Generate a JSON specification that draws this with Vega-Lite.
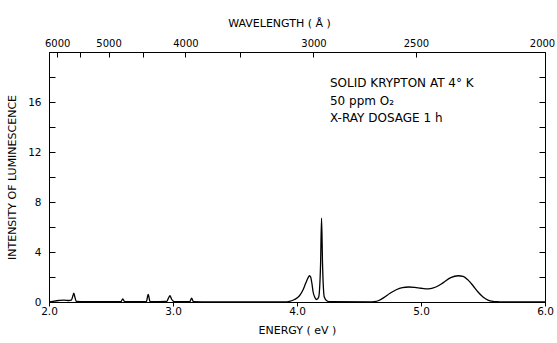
{
  "$schema": "https://vega.github.io/schema/vega-lite/v6.json",
  "width": 496,
  "height": 250,
  "autosize": {"type": "none"},
  "padding": {"left": 49, "top": 52, "right": 12, "bottom": 41},
  "background": "white",
  "config": {
    "view": {"stroke": "black", "strokeWidth": 1},
    "axis": {
      "grid": false,
      "domainColor": "black",
      "tickColor": "black",
      "labelColor": "black",
      "titleColor": "black",
      "labelFont": "DejaVu Sans",
      "titleFont": "DejaVu Sans",
      "labelFontSize": 10.5,
      "titleFontSize": 11,
      "titleFontWeight": "normal",
      "labelOverlap": false,
      "labelFlush": false,
      "labelBound": false
    }
  },
  "layer": [
    {
      "data": {
        "values": [
          {"E": 2.0, "I": 0.0}, {"E": 2.03, "I": 0.05}, {"E": 2.08, "I": 0.12}, {"E": 2.12, "I": 0.15},
          {"E": 2.16, "I": 0.12}, {"E": 2.18, "I": 0.15}, {"E": 2.19, "I": 0.4}, {"E": 2.2, "I": 0.7},
          {"E": 2.21, "I": 0.35}, {"E": 2.22, "I": 0.05}, {"E": 2.3, "I": 0.02}, {"E": 2.58, "I": 0.02},
          {"E": 2.595, "I": 0.25}, {"E": 2.61, "I": 0.02}, {"E": 2.785, "I": 0.03}, {"E": 2.8, "I": 0.6},
          {"E": 2.815, "I": 0.03}, {"E": 2.95, "I": 0.05}, {"E": 2.965, "I": 0.35}, {"E": 2.975, "I": 0.5},
          {"E": 2.99, "I": 0.2}, {"E": 3.01, "I": 0.03}, {"E": 3.135, "I": 0.03}, {"E": 3.15, "I": 0.3},
          {"E": 3.165, "I": 0.03}, {"E": 3.3, "I": 0.0}, {"E": 3.9, "I": 0.0}, {"E": 3.94, "I": 0.05},
          {"E": 3.98, "I": 0.2}, {"E": 4.02, "I": 0.5}, {"E": 4.05, "I": 1.0}, {"E": 4.07, "I": 1.5},
          {"E": 4.09, "I": 1.95}, {"E": 4.1, "I": 2.1}, {"E": 4.11, "I": 2.0}, {"E": 4.12, "I": 1.5},
          {"E": 4.13, "I": 0.8}, {"E": 4.145, "I": 0.35}, {"E": 4.16, "I": 0.2}, {"E": 4.175, "I": 0.4},
          {"E": 4.19, "I": 3.0}, {"E": 4.198, "I": 6.7}, {"E": 4.206, "I": 3.0}, {"E": 4.22, "I": 0.4},
          {"E": 4.24, "I": 0.1}, {"E": 4.27, "I": 0.02}, {"E": 4.6, "I": 0.0}, {"E": 4.62, "I": 0.02},
          {"E": 4.66, "I": 0.12}, {"E": 4.7, "I": 0.35}, {"E": 4.75, "I": 0.7}, {"E": 4.8, "I": 0.98},
          {"E": 4.85, "I": 1.15}, {"E": 4.9, "I": 1.2}, {"E": 4.95, "I": 1.17}, {"E": 5.0, "I": 1.1},
          {"E": 5.06, "I": 1.05}, {"E": 5.12, "I": 1.2}, {"E": 5.18, "I": 1.55}, {"E": 5.24, "I": 1.95},
          {"E": 5.3, "I": 2.1}, {"E": 5.34, "I": 2.05}, {"E": 5.38, "I": 1.75}, {"E": 5.42, "I": 1.3},
          {"E": 5.46, "I": 0.8}, {"E": 5.5, "I": 0.4}, {"E": 5.54, "I": 0.15}, {"E": 5.58, "I": 0.05},
          {"E": 5.62, "I": 0.02}, {"E": 5.66, "I": 0.0}, {"E": 6.0, "I": 0.0}
        ]
      },
      "mark": {"type": "line", "color": "black", "strokeWidth": 1.3, "interpolate": "monotone", "clip": true},
      "encoding": {
        "x": {
          "field": "E", "type": "quantitative",
          "scale": {"domain": [2, 6], "nice": false, "zero": false},
          "axis": {
            "orient": "bottom",
            "values": [2, 3, 4, 5, 6],
            "format": ".1f",
            "tickSize": 4,
            "labelPadding": 0,
            "title": "ENERGY    ( eV )",
            "titlePadding": 8
          }
        },
        "y": {
          "field": "I", "type": "quantitative",
          "scale": {"domain": [0, 20], "nice": false},
          "axis": {
            "orient": "left",
            "values": [0, 2, 4, 6, 8, 10, 12, 14, 16, 18],
            "labelExpr": "datum.value % 4 == 0 ? datum.label : ''",
            "tickSize": -6,
            "labelPadding": 14,
            "title": "INTENSITY OF LUMINESCENCE",
            "titlePadding": 10
          }
        }
      }
    },
    {
      "data": {"values": [{"note": "SOLID  KRYPTON  AT  4° K\n50 ppm  O₂\nX-RAY  DOSAGE   1 h"}]},
      "mark": {
        "type": "text",
        "align": "left",
        "baseline": "alphabetic",
        "font": "DejaVu Sans",
        "fontSize": 12,
        "lineBreak": "\n",
        "lineHeight": 17.5,
        "color": "black"
      },
      "encoding": {
        "x": {
          "datum": 4.266, "type": "quantitative",
          "scale": {"domain": [2, 6], "nice": false, "zero": false},
          "axis": {
            "orient": "top",
            "values": [2.066, 2.254, 2.48, 2.755, 3.1, 3.542, 4.133, 4.959, 6.0],
            "labelExpr": "datum.value < 2.1 ? '6000' : datum.value < 2.3 ? '' : datum.value < 2.6 ? '5000' : datum.value < 3.0 ? '' : datum.value < 3.3 ? '4000' : datum.value < 3.8 ? '' : datum.value < 4.5 ? '3000' : datum.value < 5.5 ? '2500' : '2000'",
            "labelOffset": {"condition": {"test": "datum.value > 5.9", "value": -3}, "value": 0},
            "labelFontSize": 10,
            "tickSize": -5,
            "labelPadding": 9,
            "title": "WAVELENGTH    ( Å )",
            "titlePadding": 10,
            "titleX": 230,
            "titleAlign": "center"
          }
        },
        "y": {
          "datum": 17.2, "type": "quantitative",
          "scale": {"domain": [0, 20], "nice": false},
          "axis": {
            "orient": "right",
            "values": [2, 4, 6, 8, 10, 12, 14, 16, 18],
            "labels": false,
            "tickSize": -6,
            "title": null
          }
        },
        "text": {"field": "note", "type": "nominal"}
      }
    }
  ],
  "resolve": {
    "scale": {"x": "independent", "y": "independent"},
    "axis": {"x": "independent", "y": "independent"}
  }
}
